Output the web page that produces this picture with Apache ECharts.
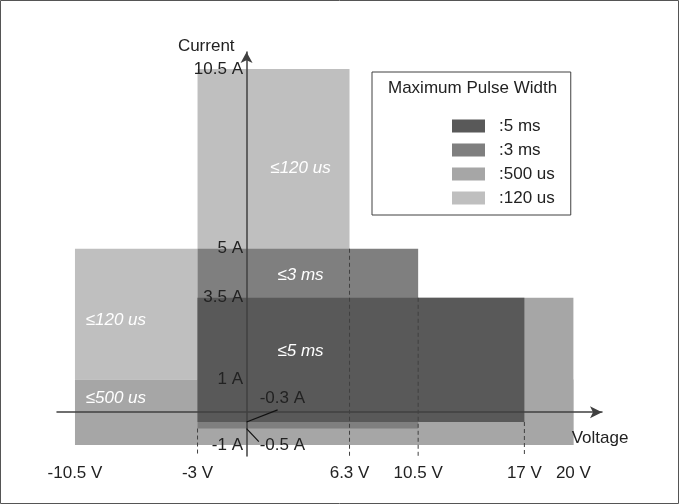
<!DOCTYPE html>
<html>
<head>
<meta charset="utf-8">
<script src="https://cdn.jsdelivr.net/npm/echarts@6/dist/echarts.min.js"></script>
<style>
  html, body { margin: 0; padding: 0; background: #fff; }
  #chart { width: 679px; height: 504px; }
</style>
</head>
<body>
<div id="chart"></div>
<script>
const FONT = '"Liberation Sans", Arial, sans-serif'
const FS = 17

// legend order (top to bottom) and fills
const pulseNames = [':5 ms', ':3 ms', ':500 us', ':120 us']
const pulseColors = ['#595959', '#7f7f7f', '#a6a6a6', '#bfbfbf']

// regions: [V from, V to, A from, A to]
const rects5ms = [[-3, 17, -0.3, 3.5]]
const rects3ms = [[-3, 10.5, -0.5, 5]]
const rects500us = [[-10.5, 20, -1, 1], [-3, 20, -1, 3.5]]
const rects120us = [[-3, 6.3, 0, 10.5], [-10.5, -3, 1, 5]]

const xTicks = [-10.5, -3, 6.3, 10.5, 17, 20]
const yTicks = [-1, 1, 3.5, 5, 10.5]

// dashed guides: [V, top A]
const guideLines = [[-3, -0.5], [6.3, 5], [10.5, 3.5], [17, -0.3]]
// region captions: [text, V, A]
const regionLabels = [
  ['≤120 us', 3.3, 7.45],
  ['≤3 ms', 3.3, 4.2],
  ['≤5 ms', 3.3, 1.85],
  ['≤120 us', -8.0, 2.8],
  ['≤500 us', -8.0, 0.43],
]
// callouts: [text, point V, point A, line end V, line end A, text V, text A]
const callouts = [
  ['-0.3 A', 0, -0.3, 1.9, 0.07, 0.8, 0.42],
  ['-0.5 A', 0, -0.5, 0.75, -0.9, 0.8, -1.02],
]

const X_MIN = -11.6
const X_MAX = 21.75
const Y_MIN = -1.34
const Y_MAX = 11.02

const chart = echarts.init(document.getElementById('chart'))

function rectItem(params, api) {
  const p0 = api.coord([api.value(0), api.value(3)])
  const p1 = api.coord([api.value(1), api.value(2)])
  return {
    type: 'rect',
    shape: { x: p0[0], y: p0[1], width: p1[0] - p0[0], height: p1[1] - p0[1] },
    style: { fill: api.visual('color') },
  }
}

function rectSeries(name, color, data) {
  return {
    name,
    type: 'custom',
    renderItem: rectItem,
    itemStyle: { color },
    encode: { x: [0, 1], y: [2, 3] },
    data,
    silent: true,
    z: 2,
  }
}

const series = [
  rectSeries(pulseNames[3], pulseColors[3], rects120us),
  rectSeries(pulseNames[2], pulseColors[2], rects500us),
  rectSeries(pulseNames[1], pulseColors[1], rects3ms),
  rectSeries(pulseNames[0], pulseColors[0], rects5ms),
  {
    name: 'guides',
    type: 'custom',
    silent: true,
    z: 3,
    data: guideLines,
    renderItem: (params, api) => {
      const a = api.coord([api.value(0), api.value(1)])
      const b = api.coord([api.value(0), Y_MIN])
      return {
        type: 'line',
        shape: { x1: a[0], y1: a[1], x2: b[0], y2: b[1] },
        style: { stroke: '#404040', lineWidth: 1, lineDash: [4, 3] },
      }
    },
  },
  {
    name: 'captions',
    type: 'custom',
    silent: true,
    z: 4,
    data: regionLabels.map((d) => [d[1], d[2]]),
    renderItem: (params, api) => {
      const p = api.coord([api.value(0), api.value(1)])
      return {
        type: 'text',
        x: p[0],
        y: p[1],
        style: {
          text: regionLabels[params.dataIndex][0],
          fill: '#ffffff',
          fontSize: FS,
          fontStyle: 'italic',
          fontFamily: FONT,
          align: 'center',
          verticalAlign: 'middle',
        },
      }
    },
  },
  {
    name: 'callouts',
    type: 'custom',
    silent: true,
    z: 6,
    data: callouts.map((d) => [d[1], d[2]]),
    renderItem: (params, api) => {
      const d = callouts[params.dataIndex]
      const a = api.coord([d[1], d[2]])
      const b = api.coord([d[3], d[4]])
      const t = api.coord([d[5], d[6]])
      return {
        type: 'group',
        children: [
          {
            type: 'line',
            shape: { x1: a[0], y1: a[1], x2: b[0], y2: b[1] },
            style: { stroke: '#111', lineWidth: 1.2 },
          },
          {
            type: 'text',
            x: t[0],
            y: t[1],
            style: {
              text: d[0],
              fill: '#222',
              fontSize: FS,
              fontFamily: FONT,
              align: 'left',
              verticalAlign: 'middle',
            },
          },
        ],
      }
    },
  },
]

const option = {
  animation: false,
  title: {
    text: 'Maximum Pulse Width',
    left: 388,
    top: 80,
    padding: 0,
    textStyle: { fontSize: FS, fontWeight: 'normal', color: '#222', fontFamily: FONT },
  },
  legend: {
    data: pulseNames,
    orient: 'vertical',
    left: 372,
    top: 72,
    padding: [44, 16, 7, 80],
    borderColor: '#404040',
    borderWidth: 1,
    itemWidth: 33,
    itemHeight: 13,
    itemGap: 4,
    icon: 'rect',
    selectedMode: false,
    textStyle: {
      fontSize: FS,
      lineHeight: 20,
      color: '#222',
      fontFamily: FONT,
      padding: [0, 0, 0, 9],
    },
  },
  grid: { left: 57, right: 77, top: 52, bottom: 48, containLabel: false, outerBoundsMode: 'none' },
  xAxis: {
    type: 'value',
    min: X_MIN,
    max: X_MAX,
    z: 5,
    name: 'Voltage',
    nameLocation: 'end',
    nameGap: -2,
    nameTextStyle: {
      fontSize: FS,
      color: '#222',
      fontFamily: FONT,
      align: 'center',
      verticalAlign: 'top',
      lineHeight: 20,
      padding: [16, 0, 0, 0],
    },
    axisLine: {
      onZero: true,
      symbol: ['none', 'arrow'],
      symbolSize: [9, 12],
      lineStyle: { color: '#404040', width: 1.5 },
    },
    axisTick: { show: false },
    splitLine: { show: false },
    axisLabel: {
      customValues: xTicks,
      formatter: (v) => v + ' V',
      margin: 9,
      fontSize: FS,
      color: '#222',
      fontFamily: FONT,
    },
  },
  yAxis: {
    type: 'value',
    min: Y_MIN,
    max: Y_MAX,
    z: 5,
    name: 'Current',
    nameLocation: 'end',
    nameGap: 6,
    nameTextStyle: {
      fontSize: FS,
      color: '#222',
      fontFamily: FONT,
      align: 'right',
      verticalAlign: 'middle',
      padding: [0, 12, 0, 0],
    },
    axisLine: {
      onZero: true,
      symbol: ['none', 'arrow'],
      symbolSize: [9, 11],
      lineStyle: { color: '#404040', width: 1.5 },
    },
    axisTick: { show: false },
    splitLine: { show: false },
    axisLabel: {
      customValues: yTicks,
      formatter: (v) => v + ' A',
      margin: -186,
      fontSize: FS,
      color: '#222',
      fontFamily: FONT,
    },
  },
  graphic: [
    {
      type: 'rect',
      shape: { x: 0.5, y: 0.5, width: 678, height: 503 },
      style: { fill: 'none', stroke: '#555', lineWidth: 1 },
      silent: true,
    },
  ],
  series,
}

chart.setOption(option)
</script>
</body>
</html>
